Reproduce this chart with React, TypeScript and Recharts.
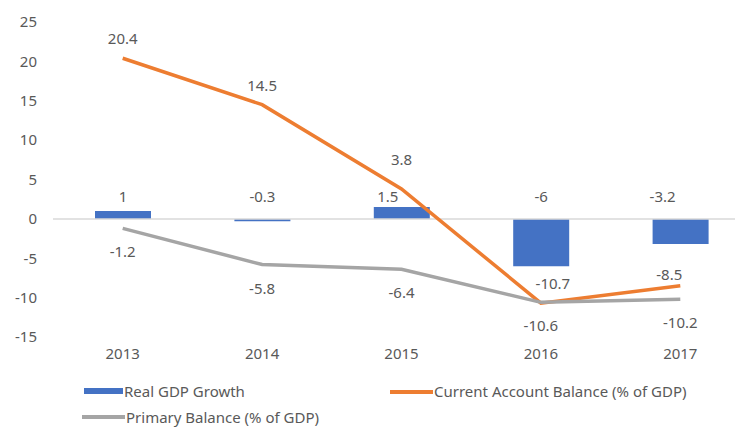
import {
  ComposedChart,
  Bar,
  Line,
  XAxis,
  YAxis,
  ReferenceLine,
  LabelList,
} from "recharts";

const years = ["2013", "2014", "2015", "2016", "2017"];
const realGdpGrowth = [1, -0.3, 1.5, -6, -3.2];
const currentAccount = [20.4, 14.5, 3.8, -10.7, -8.5];
const primaryBalance = [-1.2, -5.8, -6.4, -10.6, -10.2];
const yTicks = [-15, -10, -5, 0, 5, 10, 15, 20, 25];

const data = years.map((year, i) => ({
  year,
  gdp: realGdpGrowth[i],
  cab: currentAccount[i],
  pb: primaryBalance[i],
}));

const BLUE = "#4472C4";
const ORANGE = "#ED7D31";
const GRAY = "#A5A5A5";
const TEXT = "#595959";
const FONT = "'Noto Sans', 'Open Sans', sans-serif";
const FS = 15;

// small label nudges where Excel moved a label off its default spot
const barNudge: Record<number, number> = { 2: -14, 4: -18 };
const orangeNudge: Record<number, [number, number]> = {
  2: [0, -10],
  3: [12, 0],
  4: [-11, 8],
};

const BarValueLabel = (props: any) => {
  const { x, y, width, height, value, index } = props;
  const zeroY = y + height;
  const cx = x + width / 2 + (barNudge[index] ?? 0);
  return (
    <text x={cx} y={zeroY - 23} fill={TEXT} fontSize={FS} fontFamily={FONT} textAnchor="middle" dominantBaseline="central">
      {value}
    </text>
  );
};

const OrangeLabel = (props: any) => {
  const { x, y, value, index } = props;
  const [dx, dy] = orangeNudge[index] ?? [0, 0];
  return (
    <text x={x + dx} y={y - 20 + dy} fill={TEXT} fontSize={FS} fontFamily={FONT} textAnchor="middle" dominantBaseline="central">
      {value}
    </text>
  );
};

const GrayLabel = (props: any) => {
  const { x, y, value } = props;
  return (
    <text x={x} y={y + 23} fill={TEXT} fontSize={FS} fontFamily={FONT} textAnchor="middle" dominantBaseline="central">
      {value}
    </text>
  );
};

const legendText = { position: "absolute" as const, fontSize: FS, color: TEXT, fontFamily: FONT, lineHeight: "18px" };

export default function App() {
  return (
    <div style={{ position: "absolute", left: 0, top: 0, width: 735, height: 428, overflow: "hidden", background: "#fff" }}>
      <ComposedChart
        width={760}
        height={370}
        data={data}
        margin={{ top: 22, right: 10, left: 0, bottom: 3 }}
      >
        <XAxis
          dataKey="year"
          axisLine={false}
          tickLine={false}
          height={30}
          tickMargin={5}
          tick={{ fill: TEXT, fontSize: FS, fontFamily: FONT }}
        />
        <YAxis
          domain={[-15, 25]}
          ticks={yTicks}
          width={53}
          axisLine={false}
          tickLine={false}
          tickMargin={10}
          interval={0}
          tick={{ fill: TEXT, fontSize: FS, fontFamily: FONT }}
        />
        <ReferenceLine y={0} stroke="#D9D9D9" strokeWidth={1.5} />
        <Bar dataKey="gdp" fill={BLUE} barSize={56} isAnimationActive={false}>
          <LabelList dataKey="gdp" content={BarValueLabel} />
        </Bar>
        <Line
          dataKey="cab"
          stroke={ORANGE}
          strokeWidth={3.5}
          dot={false}
          isAnimationActive={false}
        >
          <LabelList dataKey="cab" content={OrangeLabel} />
        </Line>
        <Line
          dataKey="pb"
          stroke={GRAY}
          strokeWidth={3.5}
          dot={false}
          isAnimationActive={false}
        >
          <LabelList dataKey="pb" content={GrayLabel} />
        </Line>
      </ComposedChart>
      <div style={{ position: "absolute", left: 84, top: 388, width: 39, height: 6, background: BLUE }} />
      <div style={{ ...legendText, left: 124, top: 382 }}>Real GDP Growth</div>
      <div style={{ position: "absolute", left: 390, top: 390, width: 43, height: 3.5, background: ORANGE }} />
      <div style={{ ...legendText, left: 434, top: 382 }}>Current Account Balance (% of GDP)</div>
      <div style={{ position: "absolute", left: 82, top: 415, width: 43, height: 3.5, background: GRAY }} />
      <div style={{ ...legendText, left: 126, top: 408 }}>Primary Balance (% of GDP)</div>
    </div>
  );
}
